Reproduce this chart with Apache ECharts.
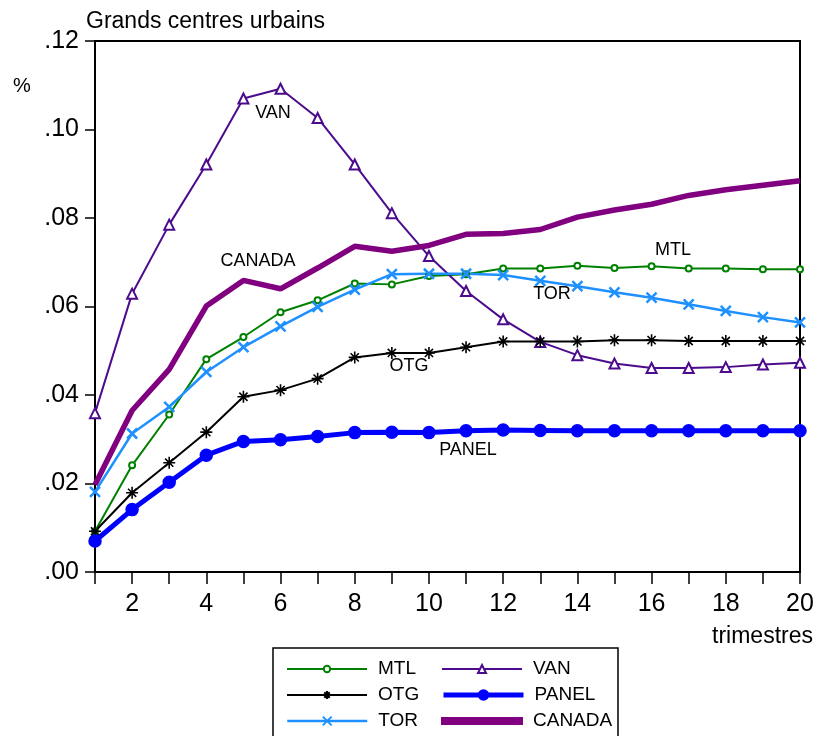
<!DOCTYPE html>
<html>
<head>
<meta charset="utf-8">
<script src="https://cdn.jsdelivr.net/npm/echarts@6/dist/echarts.min.js"></script>
<style>
  html, body { margin: 0; padding: 0; background: #fff; }
  #chart { width: 820px; height: 736px; }
</style>
</head>
<body>
<div id="chart"></div>
<script>
// Quarters after the shock
const quarters = [1, 2, 3, 4, 5, 6, 7, 8, 9, 10, 11, 12, 13, 14, 15, 16, 17, 18, 19, 20];

// Cumulative response by urban centre
const mtl = [0.0092, 0.0241, 0.0356, 0.0481, 0.0531, 0.0587, 0.0614, 0.0652, 0.0650, 0.0669,
             0.0673, 0.0686, 0.0686, 0.0692, 0.0687, 0.0691, 0.0686, 0.0686, 0.0684, 0.0684];
const van = [0.0359, 0.0629, 0.0785, 0.0921, 0.1070, 0.1092, 0.1026, 0.0921, 0.0811, 0.0714,
             0.0635, 0.0571, 0.0520, 0.0490, 0.0471, 0.0461, 0.0461, 0.0463, 0.0469, 0.0473];
const otg = [0.0092, 0.0179, 0.0247, 0.0316, 0.0396, 0.0411, 0.0437, 0.0485, 0.0495, 0.0495,
             0.0508, 0.0521, 0.0521, 0.0521, 0.0524, 0.0524, 0.0522, 0.0522, 0.0522, 0.0522];
const panel = [0.0070, 0.0141, 0.0203, 0.0264, 0.0295, 0.0299, 0.0306, 0.0315, 0.0316, 0.0315,
               0.0319, 0.0321, 0.0320, 0.0319, 0.0319, 0.0319, 0.0319, 0.0319, 0.0319, 0.0319];
const tor = [0.0181, 0.0313, 0.0373, 0.0452, 0.0508, 0.0555, 0.0599, 0.0638, 0.0673, 0.0674,
             0.0674, 0.0671, 0.0658, 0.0646, 0.0632, 0.0620, 0.0605, 0.0590, 0.0576, 0.0564];
const canada = [0.0197, 0.0365, 0.0458, 0.0601, 0.0659, 0.0640, 0.0687, 0.0736, 0.0725, 0.0738,
                0.0763, 0.0765, 0.0774, 0.0802, 0.0818, 0.0831, 0.0851, 0.0864, 0.0874, 0.0884];

const yTicks = { min: 0, max: 0.12, step: 0.02 };

const FONT = 'Liberation Sans, Arial, sans-serif';
const ASTERISK = 'path://M0,5 L10,5 M5,0 L5,10 M1.6,1.6 L8.4,8.4 M8.4,1.6 L1.6,8.4';
const CROSS = 'path://M0,0 L10,10 M10,0 L0,10';

function pairs(values) {
  return quarters.map((q, i) => [q, values[i]]);
}

function lineSeries(name, values, color, width, symbol, size, extra) {
  return Object.assign({
    name: name,
    type: 'line',
    data: pairs(values),
    clip: false,
    symbol: symbol,
    symbolSize: size,
    showSymbol: symbol !== 'none',
    lineStyle: { color: color, width: width },
    itemStyle: { color: color, borderColor: color, borderWidth: 1.5 },
    emphasis: { disabled: true },
    animation: false,
    z: 3
  }, extra || {});
}

// One legend block per entry so the two columns line up exactly
function legendEntry(name, left, rowCenter, opts) {
  const itemHeight = opts.itemHeight || 8;
  return Object.assign({
    data: [opts.icon ? { name: name, icon: opts.icon } : name],
    orient: 'horizontal',
    left: left,
    top: rowCenter - 10,
    padding: 0,
    itemWidth: 80,
    itemHeight: itemHeight,
    selectedMode: false,
    textStyle: { fontSize: 19, color: '#000', fontFamily: FONT, lineHeight: 20, padding: [0, 0, 0, 6] }
  }, opts.lineWidth ? { lineStyle: { width: opts.lineWidth } } : {});
}

const chart = echarts.init(document.getElementById('chart'), null, { renderer: 'canvas' });

const seriesLabels = [
  { text: 'VAN', x: 273, y: 113 },
  { text: 'CANADA', x: 258, y: 261 },
  { text: 'MTL', x: 673, y: 250 },
  { text: 'TOR', x: 552, y: 294 },
  { text: 'OTG', x: 409, y: 366 },
  { text: 'PANEL', x: 468, y: 450 }
];

chart.setOption({
  backgroundColor: '#ffffff',
  animation: false,
  textStyle: { fontFamily: FONT },
  grid: {
    left: 95, right: 20, top: 41, bottom: 164,
    show: true, borderColor: '#000', borderWidth: 2, backgroundColor: 'transparent'
  },
  xAxis: {
    type: 'value',
    min: 1, max: 20, interval: 1,
    axisLine: { show: true, lineStyle: { color: '#000', width: 2 } },
    axisTick: { show: true, length: 12, inside: false, lineStyle: { color: '#000', width: 1.5 } },
    axisLabel: {
      margin: 20, fontSize: 25, color: '#000', fontFamily: FONT,
      formatter: v => (v % 2 === 0 ? String(v) : '')
    },
    splitLine: { show: false }
  },
  yAxis: {
    type: 'value',
    min: yTicks.min, max: yTicks.max, interval: yTicks.step,
    axisLine: { show: true, lineStyle: { color: '#000', width: 2 } },
    axisTick: { show: true, length: 10, lineStyle: { color: '#000', width: 1.5 } },
    axisLabel: {
      margin: 16, fontSize: 25, color: '#000', fontFamily: FONT,
      formatter: v => v.toFixed(2).replace(/^0/, '')
    },
    splitLine: { show: false }
  },
  legend: [
    legendEntry('MTL', 286, 669, { itemHeight: 8 }),
    legendEntry('OTG', 286, 695, { itemHeight: 10 }),
    legendEntry('TOR', 286, 721, { itemHeight: 11, lineWidth: 2.5 }),
    legendEntry('VAN', 441, 669, { itemHeight: 10 }),
    legendEntry('PANEL', 441, 695, { itemHeight: 12, lineWidth: 5 }),
    legendEntry('CANADA', 441, 721, { itemHeight: 6, icon: 'rect' })
  ],
  graphic: [
    {
      type: 'text', left: 86, top: 10,
      style: { text: 'Grands centres urbains', font: '23px ' + FONT, fill: '#000' }
    },
    {
      type: 'text', x: 22, y: 86,
      style: { text: '%', font: '20px ' + FONT, fill: '#000', align: 'center', verticalAlign: 'middle' }
    },
    {
      type: 'text', x: 813, y: 637,
      style: { text: 'trimestres', font: '23px ' + FONT, fill: '#000', align: 'right', verticalAlign: 'middle' }
    },
    {
      type: 'rect', shape: { x: 273, y: 648, width: 345, height: 100 },
      style: { fill: 'none', stroke: '#000', lineWidth: 1.5 }, z: 0
    }
  ].concat(seriesLabels.map(l => ({
    type: 'text', x: l.x, y: l.y, z: 10,
    style: { text: l.text, font: '18px ' + FONT, fill: '#000', align: 'center', verticalAlign: 'middle' }
  }))),
  series: [
    lineSeries('MTL', mtl, '#008000', 2, 'emptyCircle', 6),
    lineSeries('VAN', van, '#4b0b8c', 2, 'emptyTriangle', 10),
    lineSeries('OTG', otg, '#000000', 2, ASTERISK, 12, { itemStyle: { color: '#000', borderColor: '#000', borderWidth: 1.6 } }),
    lineSeries('PANEL', panel, '#0000ff', 5, 'circle', 12),
    lineSeries('TOR', tor, '#1e90ff', 2.5, CROSS, 10, { itemStyle: { color: '#1e90ff', borderColor: '#1e90ff', borderWidth: 2.5 } }),
    lineSeries('CANADA', canada, '#800080', 5.5, 'none', 0)
  ]
});
</script>
</body>
</html>
